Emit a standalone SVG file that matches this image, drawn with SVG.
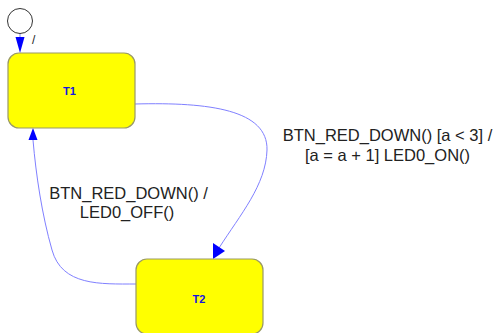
<svg xmlns="http://www.w3.org/2000/svg" width="497" height="333" viewBox="0 0 497 333">
  <style>
    .state { fill: #ffff00; stroke: #999966; stroke-width: 1.2; }
    .state-name { font-family: "Liberation Sans", Arial, sans-serif; font-size: 11px; font-weight: bold; fill: #1414e0; text-anchor: middle; }
    .edge { fill: none; stroke: #8080ff; stroke-width: 1; }
    .head { fill: #0000ff; stroke: none; }
    .label { font-family: "Liberation Sans", Arial, sans-serif; font-size: 16.5px; fill: #222; text-anchor: middle; }
    .init { fill: #ffffff; stroke: #333333; stroke-width: 1; }
  </style>

  <!-- transitions -->
  <g id="connectors">
    <!-- initial transition -->
    <path class="edge" d="M20,33.5 L20,40" stroke="#0000ff"/>
    <polygon class="head" points="15.5,37 24.5,37 20,53"/>
    <text x="32" y="44" font-family="Liberation Sans, Arial, sans-serif" font-size="12" fill="#222">/</text>

    <!-- T1 to T2 -->
    <path class="edge" d="M135,104 C210,102 268,110 267,150 C266,185 240,215 219,248"/>
    <polygon class="head" points="213,243 225,251 213,259"/>
    <text class="label" x="387.5" y="141">BTN_RED_DOWN() [a &lt; 3] /</text>
    <text class="label" x="387.5" y="161">[a = a + 1] LED0_ON()</text>

    <!-- T2 to T1 -->
    <path class="edge" d="M136,284 C100,284 62,286 52,250 C42,215 36,175 33,140"/>
    <polygon class="head" points="28.5,140 37.5,140 33,128"/>
    <text class="label" x="128.5" y="199">BTN_RED_DOWN() /</text>
    <text class="label" x="127" y="218">LED0_OFF()</text>
  </g>

  <!-- initial pseudostate -->
  <g id="initial">
    <circle class="init" cx="20" cy="21" r="12.5"/>
  </g>

  <!-- states -->
  <g id="T1">
    <rect class="state" x="8" y="53" width="127" height="75" rx="11" ry="11"/>
    <text class="state-name" x="69.5" y="95">T1</text>
  </g>
  <g id="T2">
    <rect class="state" x="136" y="259" width="127" height="75" rx="11" ry="11"/>
    <text class="state-name" x="199" y="303">T2</text>
  </g>
</svg>
